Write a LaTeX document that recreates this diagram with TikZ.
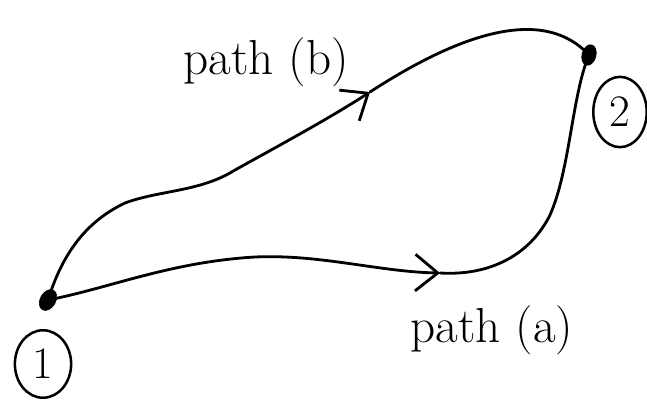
\documentclass[tikz,border=0pt]{standalone}
\usepackage{tikz}
\usetikzlibrary{arrows.meta,calc,positioning,shapes.geometric}
\tikzset{
  endpt/.style={ellipse, fill, draw, minimum width=16pt, minimum height=11pt, inner sep=0pt},
  ptlabel/.style={ellipse, draw, line width=1.8pt, minimum width=40pt, minimum height=48pt, inner sep=0pt, font=\fontsize{32}{36}\selectfont},
  pathlabel/.style={font=\fontsize{35}{40}\selectfont},
  route/.style={line width=2pt},
  every picture/.style={line cap=round, line join=round}
}

\begin{document}
\begin{tikzpicture}[x=0.025cm, y=-0.025cm, >={Straight Barb[length=16pt, width=26pt]}]
  \useasboundingbox (0,0) rectangle (647,402);

  % end points
  \node[endpt, rotate=60] (p1) at (48,300) {};
  \node[endpt, rotate=75, minimum width=15pt, minimum height=10pt] (p2) at (589,55) {};
  \node[ptlabel] (l1) at (43,364) {1};
  \node[ptlabel, minimum width=38pt, minimum height=50pt] (l2) at (620,112) {2};

  % arrow positions
  \coordinate (mb) at (370,92);
  \coordinate (ma) at (440,273);

  % path (b)
  \draw[route, ->] (p1.center) .. controls (62,255) and (85,222) .. (125,203)
                     .. controls (160,190) and (200,192) .. (235,170)
                     .. controls (280,145) and (330,118) .. (mb);
  \draw[route] (mb) .. controls (450,40) and (540,2) .. (p2.center);

  % path (a)
  \draw[route, ->] (p1.center) .. controls (110,288) and (170,262) .. (255,257)
                     .. controls (320,254) and (380,272) .. (ma);
  \draw[route] (ma) .. controls (490,276) and (530,255) .. (550,215)
                .. controls (570,170) and (572,95) .. (p2.center);

  % labels
  \node[pathlabel] (pb) at (266,62) {path (b)};
  \node[pathlabel] (pa) at (492,330) {path (a)};
\end{tikzpicture}
\end{document}
